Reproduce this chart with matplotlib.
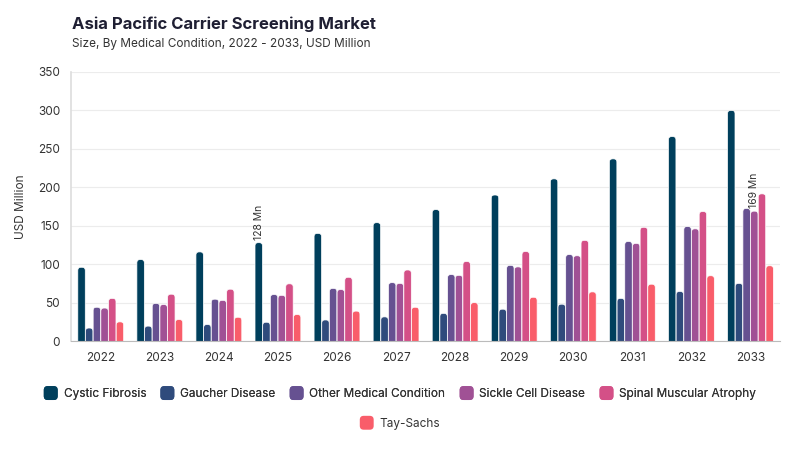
import matplotlib
matplotlib.use("Agg")
import matplotlib.pyplot as plt
import numpy as np
from matplotlib.patches import FancyBboxPatch
from matplotlib.legend_handler import HandlerPatch
from matplotlib.patches import Patch

plt.rcParams['font.family'] = ['Inter', 'DejaVu Sans']

years = ["2022", "2023", "2024", "2025", "2026", "2027", "2028", "2029", "2030", "2031", "2032", "2033"]
series_names = ["Cystic Fibrosis", "Gaucher Disease", "Other Medical Condition",
                "Sickle Cell Disease", "Spinal Muscular Atrophy", "Tay-Sachs"]
cystic = [96, 106, 116, 128, 140, 154, 171, 190, 211, 237, 266, 300]
gaucher = [17, 19.5, 21.5, 24.5, 27.5, 31.5, 36, 41.5, 48, 55.5, 64.5, 75]
other = [44, 49, 54.5, 60.5, 68.5, 76, 86.5, 98.5, 112.5, 129.5, 149, 172.5]
sickle = [43, 47.5, 53, 59.5, 67, 75, 85.5, 96.5, 111, 127, 146, 169]
sma = [55.5, 61, 67.5, 74.5, 83, 92.5, 103.5, 116.5, 131, 148, 168.5, 191.5]
tay = [25, 28, 31, 34.5, 39, 44, 50, 57, 64, 74, 85, 98]
colors = ["#003f5c", "#2f4b7c", "#665191", "#a05195", "#d45087", "#f95d6a"]
annotations = [(3, 0, "128 Mn"), (11, 3, "169 Mn")]

data = [cystic, gaucher, other, sickle, sma, tay]

fig = plt.figure(figsize=(8, 4.5), dpi=100)
ax = fig.add_axes([0.089, 0.242, 0.886, 0.598])

x = np.arange(len(years))
n = len(data)
step = 0.13
width = 0.126
containers = []
for i, (vals, c) in enumerate(zip(data, colors)):
    off = (i - (n - 1) / 2) * step
    bc = ax.bar(x + off, vals, width=width, color=c, label=series_names[i])
    containers.append(bc)

ax.set_ylim(0, 350)
ax.set_xlim(-0.5, len(years) - 0.5)

# rounded bars
fig.canvas.draw()
px_per_x = ax.transData.transform((1, 0))[0] - ax.transData.transform((0, 0))[0]
px_per_y = ax.transData.transform((0, 1))[1] - ax.transData.transform((0, 0))[1]
r = width / 2 * 0.85
aspect = px_per_x / px_per_y
for bc in containers:
    for p in bc.patches:
        p.set_visible(False)
        bx, bw, bh = p.get_x(), p.get_width(), p.get_height()
        fb = FancyBboxPatch((bx, -10), bw, bh + 10,
                            boxstyle=f"round,pad=0,rounding_size={r}",
                            mutation_aspect=aspect,
                            facecolor=p.get_facecolor(), edgecolor="white",
                            linewidth=0.5, clip_on=True)
        ax.add_patch(fb)
        fb.set_clip_path(ax.patch)

for xi, si, txt in annotations:
    p = containers[si].patches[xi]
    ax.text(p.get_x() + p.get_width() / 2, p.get_height() + 4, txt,
            rotation=90, ha="center", va="bottom", fontsize=7.5, color="#333333")

ax.set_xticks(x)
ax.set_xticklabels(years)
ax.set_yticks(np.arange(0, 351, 50))
ax.tick_params(axis="both", length=0, labelsize=8.5, labelcolor="#333333")
ax.tick_params(axis="x", pad=8)
ax.tick_params(axis="y", pad=8)
ax.grid(axis="y", color="#ececec", linewidth=0.8)
ax.set_axisbelow(True)
for s in ["top", "right"]:
    ax.spines[s].set_visible(False)
ax.spines["left"].set_color("#dddddd")
ax.spines["left"].set_linewidth(1.2)
ax.spines["bottom"].set_color("#bbbbbb")
ax.set_ylabel("USD Million", fontsize=8.5, color="#333333", labelpad=8)

fig.text(0.09, 0.935, "Asia Pacific Carrier Screening Market", fontsize=12,
         fontweight="bold", color="#1f1f33", ha="left", va="baseline")
fig.text(0.09, 0.895, "Size, By Medical Condition, 2022 - 2033, USD Million", fontsize=8.5,
         color="#333333", ha="left", va="baseline")


class RoundHandler(HandlerPatch):
    def create_artists(self, legend, orig_handle, xdescent, ydescent, width, height, fontsize, trans):
        w = 10.0
        h = 10.0
        x0 = -xdescent + (width - w) / 2
        y0 = -ydescent + (height - h) / 2
        p = FancyBboxPatch((x0, y0), w, h, boxstyle=f"round,pad=0,rounding_size={w*0.28}",
                           facecolor=orig_handle.get_facecolor(), edgecolor="none",
                           transform=trans)
        return [p]


handles = [Patch(facecolor=c) for c in colors]
common = dict(loc="center", frameon=False, fontsize=8.5, handlelength=1.18,
              handletextpad=0.5, handler_map={Patch: RoundHandler()})
leg1 = fig.legend(handles[:5], series_names[:5], bbox_to_anchor=(0.5, 0.124),
                  ncol=5, columnspacing=1.2, **common)
for t in leg1.get_texts():
    t.set_color("#333333")
fig.add_artist(leg1)
leg2 = fig.legend(handles[5:], series_names[5:], bbox_to_anchor=(0.5, 0.058),
                  ncol=1, **common)
for t in leg2.get_texts():
    t.set_color("#333333")

fig.savefig("out.png", dpi=100, facecolor="white")
